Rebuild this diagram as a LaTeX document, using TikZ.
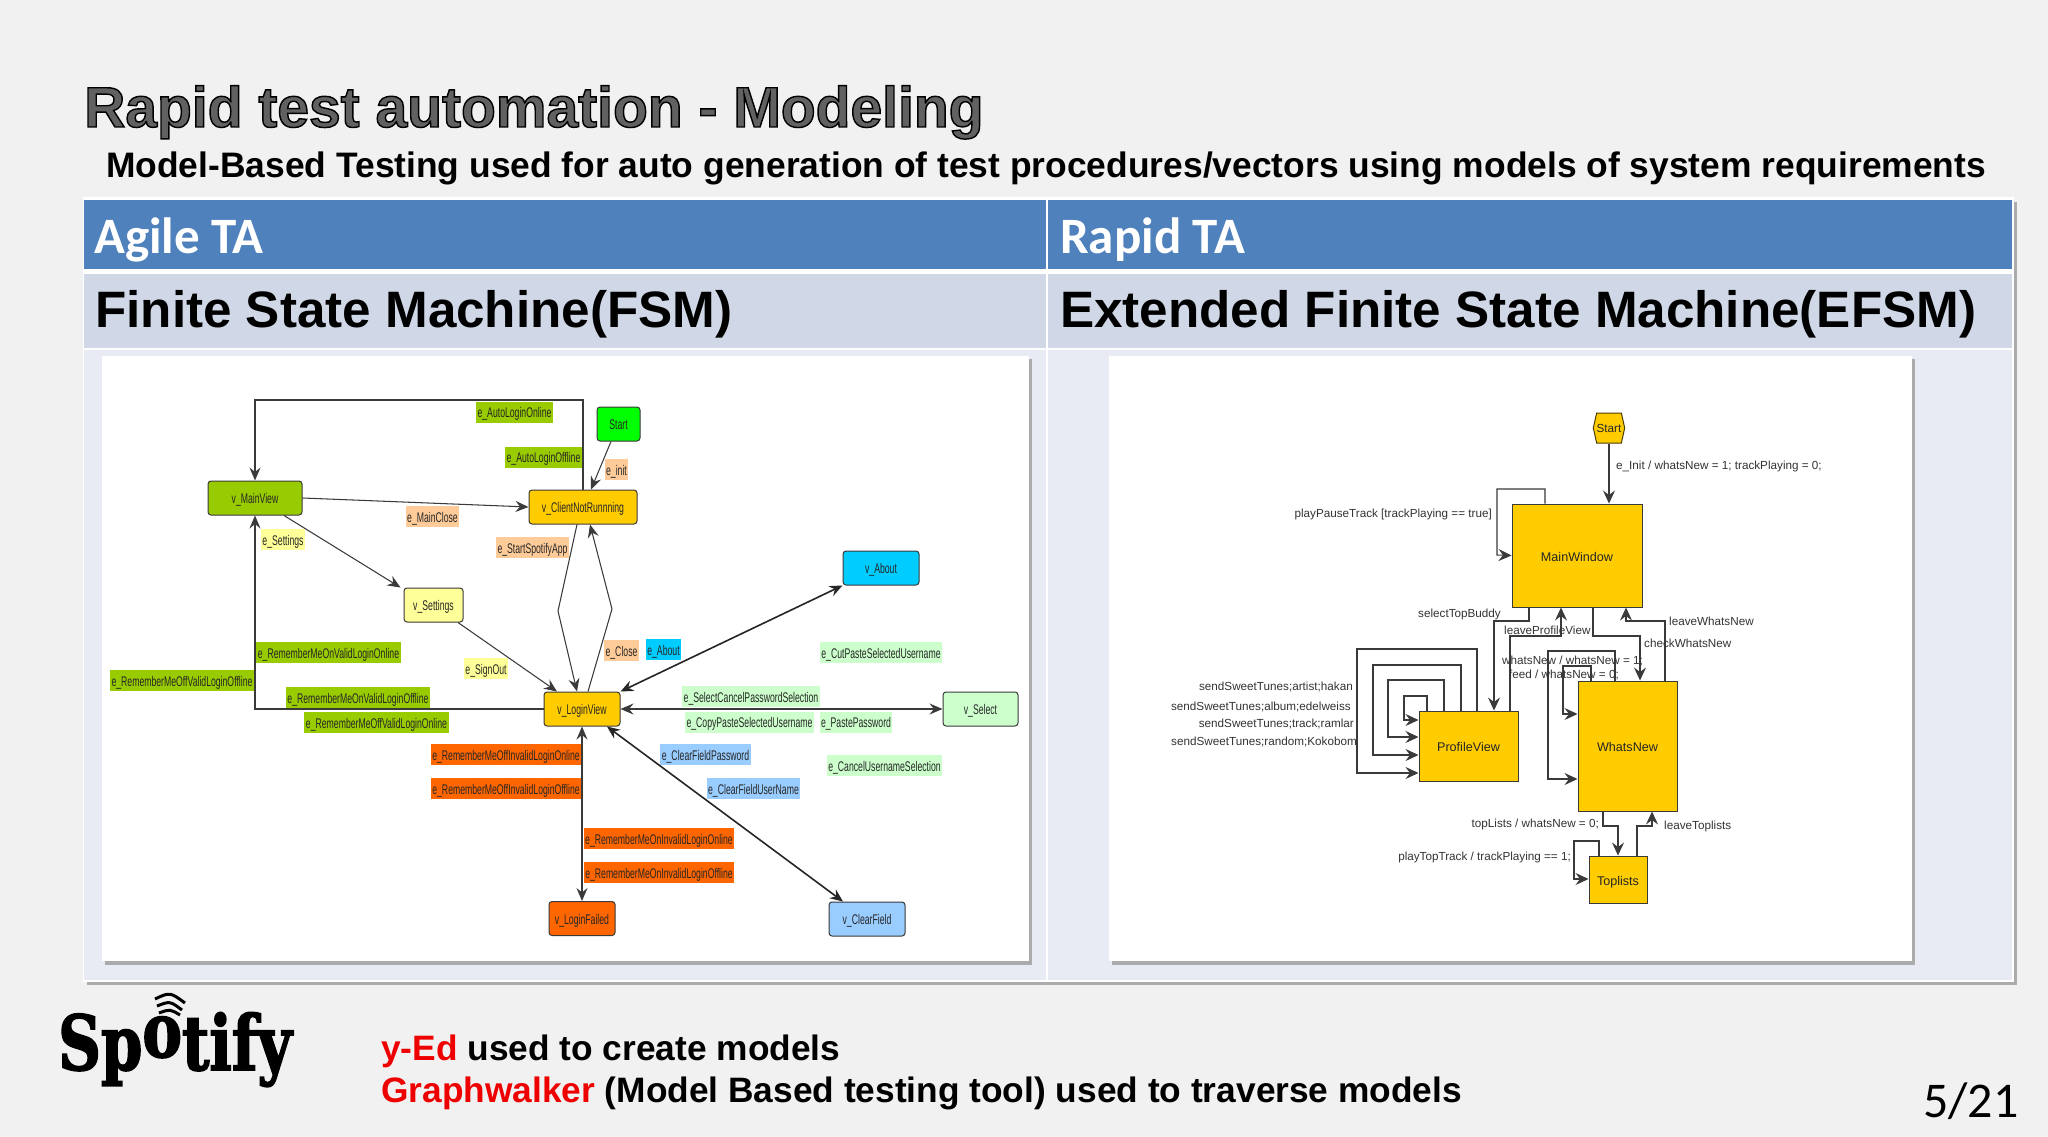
\documentclass[tikz,border=0pt]{standalone}
\usepackage{fontspec}
\usetikzlibrary{arrows.meta,shapes.symbols}
\setmainfont{Liberation Sans}
\newfontfamily\narrowf[FakeStretch=0.62]{Liberation Sans}
\newfontfamily\carlitof{Carlito}
\newfontfamily\titlef[FakeBold=2.5]{Liberation Sans Bold}
\newfontfamily\logof[FakeStretch=0.78,FakeBold=2]{DejaVu Serif Bold}
\newcommand{\fsz}[1]{\fontsize{#1}{#1}\selectfont}
\definecolor{bgc}{HTML}{F1F1F1}
\definecolor{headc}{HTML}{4F81BD}
\definecolor{rowc}{HTML}{D0D8E8}
\definecolor{bodyc}{HTML}{E9EBF4}
\definecolor{shadc}{HTML}{ABABAB}
\definecolor{lime}{HTML}{99CC00}
\definecolor{amber}{HTML}{FFCC00}
\definecolor{pale}{HTML}{FFFF99}
\definecolor{peach}{HTML}{FFCC99}
\definecolor{sky}{HTML}{00CCFF}
\definecolor{mint}{HTML}{CCFFCC}
\definecolor{azure}{HTML}{99CCFF}
\definecolor{orng}{HTML}{FF6600}
\definecolor{redt}{HTML}{EE0000}
\definecolor{wire}{HTML}{3A3A3A}
\tikzset{
 tipa/.style={Stealth[length=13,width=11,inset=4.5]},
 fsmstate/.style={draw=wire,line width=1,rounded corners=3,inner sep=0,minimum height=34,
   text height=11,text depth=0,font=\narrowf\fsz{14},text=black!85},
 elab/.style={inner sep=0,minimum height=21,text height=11,text depth=0,font=\narrowf\fsz{14},text=black!85},
 efsmstate/.style={draw=wire,line width=1,fill=amber,inner sep=0,text height=11,text depth=0,font=\fsz{12.6},text=black!85},
 tlab/.style={inner sep=0,yshift=-1.3pt,font=\fsz{11.7},text=black!80},
 farrow/.style={draw=wire,line width=1.05,-{Stealth[length=13,width=11,inset=4.5]}},
 fdouble/.style={draw=black!85,line width=1.6,{Stealth[length=13,width=11,inset=4.5]}-{Stealth[length=13,width=11,inset=4.5]}},
 farrowboth/.style={draw=wire,line width=1.05,{Stealth[length=13,width=11,inset=4.5]}-{Stealth[length=13,width=11,inset=4.5]}},
 garrow/.style={draw=wire,line width=1.05,-{Stealth[length=13,width=12,inset=4.5]}},
 headtxt/.style={inner sep=0,anchor=base west,text=white,font=\carlitof\bfseries\fsz{51}},
 subtxt/.style={inner sep=0,anchor=base west,text=black,font=\bfseries\fsz{51.2}},
 foot/.style={inner sep=0,anchor=base west,text=black,font=\bfseries\fsz{35.3}},
 wave/.style={line width=3},
}
\begin{document}
\begin{tikzpicture}[x=1pt,y=-1pt]
\useasboundingbox (0,0) rectangle (2048,1137);
\fill[bgc] (0,0) rectangle (2048,1137);
% table
\fill[shadc] (87,202) rectangle (2017,985);
\fill[white] (83,197) rectangle (2014,982);
\fill[headc] (84,200) rectangle (1046,269);
\fill[headc] (1048,200) rectangle (2012,269);
\fill[rowc] (84,274) rectangle (1046,348);
\fill[rowc] (1048,274) rectangle (2012,348);
\fill[bodyc] (84,350) rectangle (1046,980);
\fill[bodyc] (1048,350) rectangle (2012,980);
% panels
\fill[shadc] (105,359) rectangle (1032,965);
\fill[white] (102,356) rectangle (1029,961);
\fill[shadc] (1112,359) rectangle (1915,965);
\fill[white] (1109,356) rectangle (1912,961);
% heading
\node[inner sep=0,anchor=base west,font=\titlef\fsz{57}] (title) at (84,127)
  {\color{black!62}\special{pdf:code 0 0 0 RG}Rapid test automation - Modeling};
\node[inner sep=0,anchor=base west,font=\bfseries\fsz{35.4}] (subtitle) at (106,178)
  {Model-Based Testing used for auto generation of test procedures/vectors using models of system requirements};
\node[headtxt] (agile) at (94,253) {Agile TA};
\node[headtxt] (rapid) at (1060,253) {Rapid TA};
\node[subtxt] (fsmt) at (95,327) {Finite State Machine(FSM)};
\node[subtxt] (efsmt) at (1060,327) {Extended Finite State Machine(EFSM)};
% FSM labels
\node[elab,fill=lime,minimum width=77] (l1) at (514.5,412) {e\_AutoLoginOnline};
\node[elab,fill=lime,minimum width=77] (l2) at (543.5,457) {e\_AutoLoginOffline};
\node[elab,fill=peach,minimum width=53] (l3) at (432.5,516.5) {e\_MainClose};
\node[elab,fill=peach,minimum width=73] (l4) at (532.5,547.5) {e\_StartSpotifyApp};
\node[elab,fill=pale,minimum width=44] (l5) at (283,539.5) {e\_Settings};
\node[elab,fill=peach,minimum width=23] (l6) at (616.5,469.5) {e\_init};
\node[elab,fill=lime,minimum width=145] (l7) at (328.5,652.5) {e\_RememberMeOnValidLoginOnline};
\node[elab,fill=lime,minimum width=144] (l8) at (182,680.5) {e\_RememberMeOffValidLoginOffline};
\node[elab,fill=lime,minimum width=144] (l9) at (358,697.5) {e\_RememberMeOnValidLoginOffline};
\node[elab,fill=lime,minimum width=145] (l10) at (376.5,722.5) {e\_RememberMeOffValidLoginOnline};
\node[elab,fill=pale,minimum width=44] (l11) at (486,668.5) {e\_SignOut};
\node[elab,fill=orng,minimum width=150] (l12) at (506,754.5) {e\_RememberMeOffInvalidLoginOnline};
\node[elab,fill=orng,minimum width=150] (l13) at (506,788.5) {e\_RememberMeOffInvalidLoginOffline};
\node[elab,fill=orng,minimum width=150] (l14) at (659,838.5) {e\_RememberMeOnInvalidLoginOnline};
\node[elab,fill=orng,minimum width=150] (l15) at (659,872.5) {e\_RememberMeOnInvalidLoginOffline};
\node[elab,fill=sky,minimum width=35] (l16) at (663.5,649.5) {e\_About};
\node[elab,fill=peach,minimum width=35] (l17) at (621.5,650.5) {e\_Close};
\node[elab,fill=mint,minimum width=122] (l18) at (881,652.5) {e\_CutPasteSelectedUsername};
\node[elab,fill=mint,minimum width=138] (l19) at (751,696.5) {e\_SelectCancelPasswordSelection};
\node[elab,fill=mint,minimum width=129] (l20) at (749.5,722) {e\_CopyPasteSelectedUsername};
\node[elab,fill=mint,minimum width=72] (l21) at (856,722) {e\_PastePassword};
\node[elab,fill=azure,minimum width=91] (l22) at (705.5,754.5) {e\_ClearFieldPassword};
\node[elab,fill=azure,minimum width=93] (l23) at (753.5,788.5) {e\_ClearFieldUserName};
\node[elab,fill=mint,minimum width=115] (l24) at (884.5,765.5) {e\_CancelUsernameSelection};
% FSM states
\node[fsmstate,fill=lime,minimum width=94] (mainview) at (255,498) {v\_MainView};
\node[fsmstate,fill=amber,minimum width=108] (client) at (583,507) {v\_ClientNotRunnning};
\node[fsmstate,fill=pale,minimum width=59] (settings) at (433.5,605) {v\_Settings};
\node[fsmstate,fill=amber,minimum width=76] (login) at (582,709) {v\_LoginView};
\node[fsmstate,fill=orng,minimum width=66] (failed) at (582,918.5) {v\_LoginFailed};
\node[fsmstate,fill=sky,minimum width=76] (about) at (881,568) {v\_About};
\node[fsmstate,fill=mint,minimum width=75] (select) at (980.5,709) {v\_Select};
\node[fsmstate,fill=azure,minimum width=76] (clearfield) at (867,919) {v\_ClearField};
\node[fsmstate,fill=green,minimum width=43] (fstart) at (618.5,424) {Start};
% FSM connectors
\draw[farrow] ([xshift=-7.5pt]fstart.south) -- ([xshift=8pt]client.north);
\draw[farrow] (client.north) -- (client.north |- 0,400) -- (mainview.north |- 0,400) -- (mainview.north);
\draw[farrow] (mainview.east) -- (client.west);
\draw[farrow] ([xshift=29pt]mainview.south) -- ([xshift=-33pt]settings.north);
\draw[farrow] ([xshift=24.5pt]settings.south) -- ([xshift=-25pt]login.north);
\draw[farrow] (login.west) -- (mainview.south |- login.west) -- (mainview.south);
\draw[farrow] ([xshift=-6pt]client.south) -- (558,611) -- ([xshift=-5pt]login.north);
\draw[farrow] ([xshift=6pt]login.north) -- (612,609) -- ([xshift=7pt]client.south);
\draw[fdouble] (login.north east) -- (about.south west);
\draw[farrowboth] (login.east) -- (select.west);
\draw[fdouble] ([xshift=25pt]login.south) -- ([xshift=-24pt]clearfield.north);
\draw[farrowboth] (login.south) -- (failed.north);
% EFSM states
\node[efsmstate,minimum width=130,minimum height=103] (mainw) at (1577,555.5) {MainWindow};
\node[efsmstate,minimum width=99,minimum height=70] (prof) at (1468.5,746) {ProfileView};
\node[efsmstate,minimum width=99,minimum height=130] (whats) at (1627.5,746) {WhatsNew};
\node[efsmstate,minimum width=58,minimum height=47] (tops) at (1618,879.5) {Toplists};
\node[draw=black!70!amber,line width=1,fill=amber,shape=signal,signal to=east and west,signal pointer angle=155,
  inner sep=0,minimum width=30,minimum height=30,font=\fsz{11.7},text=black!85] (gstart) at (1609,428) {Start};
% EFSM connectors
\draw[garrow] (gstart.south) -- (gstart.south |- mainw.north);
\draw[garrow] ([xshift=-32pt]mainw.north) -- (1545,489) -- (1497,489) -- (1497,555) -- (mainw.west);
\draw[garrow] (1529,0 |- mainw.south) -- (1529,621) -- (1494,621) -- (1494,0 |- prof.north);
\draw[garrow] (1510,0 |- prof.north) -- (1510,636) -- (1561,636) -- (1561,0 |- mainw.south);
\draw[garrow] (1593,0 |- mainw.south) -- (1593,636) -- (1640,636) -- (1640,0 |- whats.north);
\draw[garrow] (1665,0 |- whats.north) -- (1665,621) -- (1626,621) -- (1626,0 |- mainw.south);
\draw[garrow] (1477,0 |- prof.north) -- (1477,649) -- (1357,649) -- (1357,773) -- (prof.west |- 0,773);
\draw[garrow] (1461,0 |- prof.north) -- (1461,665) -- (1373,665) -- (1373,755) -- (prof.west |- 0,755);
\draw[garrow] (1444,0 |- prof.north) -- (1444,680) -- (1388,680) -- (1388,737) -- (prof.west |- 0,737);
\draw[garrow] (1427,0 |- prof.north) -- (1427,696) -- (1404,696) -- (1404,720) -- (prof.west |- 0,720);
\draw[garrow] (1615,0 |- whats.north) -- (1615,651) -- (1548,651) -- (1548,779) -- (whats.west |- 0,779);
\draw[garrow] (1591,0 |- whats.north) -- (1591,666) -- (1563,666) -- (1563,714) -- (whats.west |- 0,714);
\draw[garrow] (1603,0 |- whats.south) -- (1603,826) -- (tops.north |- 0,826) -- (tops.north);
\draw[garrow] (1637,0 |- tops.north) -- (1637,826) -- (1652,826) -- (1652,0 |- whats.south);
\draw[garrow] (1599,0 |- tops.north) -- (1599,841) -- (1574,841) -- (1574,879) -- (tops.west |- 0,879);
% EFSM labels
\node[tlab,anchor=west] (t1) at (1616,465) {e\_Init / whatsNew = 1; trackPlaying = 0;};
\node[tlab,anchor=east] (t2) at (1492,513) {playPauseTrack [trackPlaying == true]};
\node[tlab,anchor=east] (t3) at (1501,613) {selectTopBuddy};
\node[tlab,anchor=west] (t4) at (1504,629) {leaveProfileView};
\node[tlab,anchor=west] (t5) at (1502,660) {whatsNew / whatsNew = 1;};
\node[tlab,anchor=west] (t6) at (1509,674) {feed / whatsNew = 0;};
\node[tlab,anchor=west] (t7) at (1669,620) {leaveWhatsNew};
\node[tlab,anchor=west] (t8) at (1644,642) {checkWhatsNew};
\node[tlab,anchor=east] (t9) at (1599,823) {topLists / whatsNew = 0;};
\node[tlab,anchor=west] (t10) at (1664,825) {leaveToplists};
\node[tlab,anchor=east] (t11) at (1571,856) {playTopTrack / trackPlaying == 1;};
\node[tlab,anchor=east] (t12) at (1353,686) {sendSweetTunes;artist;hakan};
\node[tlab,anchor=east] (t13) at (1351,706) {sendSweetTunes;album;edelweiss};
\node[tlab,anchor=east] (t14) at (1354,723) {sendSweetTunes;track;ramlar};
\node[tlab,anchor=east] (t15) at (1357,741) {sendSweetTunes;random;Kokobom};
% footer
\node[inner sep=0,anchor=base west,font=\logof\fsz{76},text=black] (logo) at (58,1070)
  {Sp\raisebox{13pt}{o}tify};
\draw[wave] (155,999) .. controls (170,992) .. (185,1003);
\draw[wave] (157,1006) .. controls (170,1001) .. (182,1010);
\draw[wave] (159,1013) .. controls (170,1009) .. (180,1015);
\node[foot] (f1) at (381,1060) {\textcolor{redt}{y-Ed} used to create models};
\node[foot] (f2) at (381,1102) {\textcolor{redt}{Graphwalker} (Model Based testing tool) used to traverse models};
\node[inner sep=0,anchor=base west,font=\carlitof\fsz{50},text=black] (page) at (1923,1117) {5/21};
\end{tikzpicture}
\end{document}
